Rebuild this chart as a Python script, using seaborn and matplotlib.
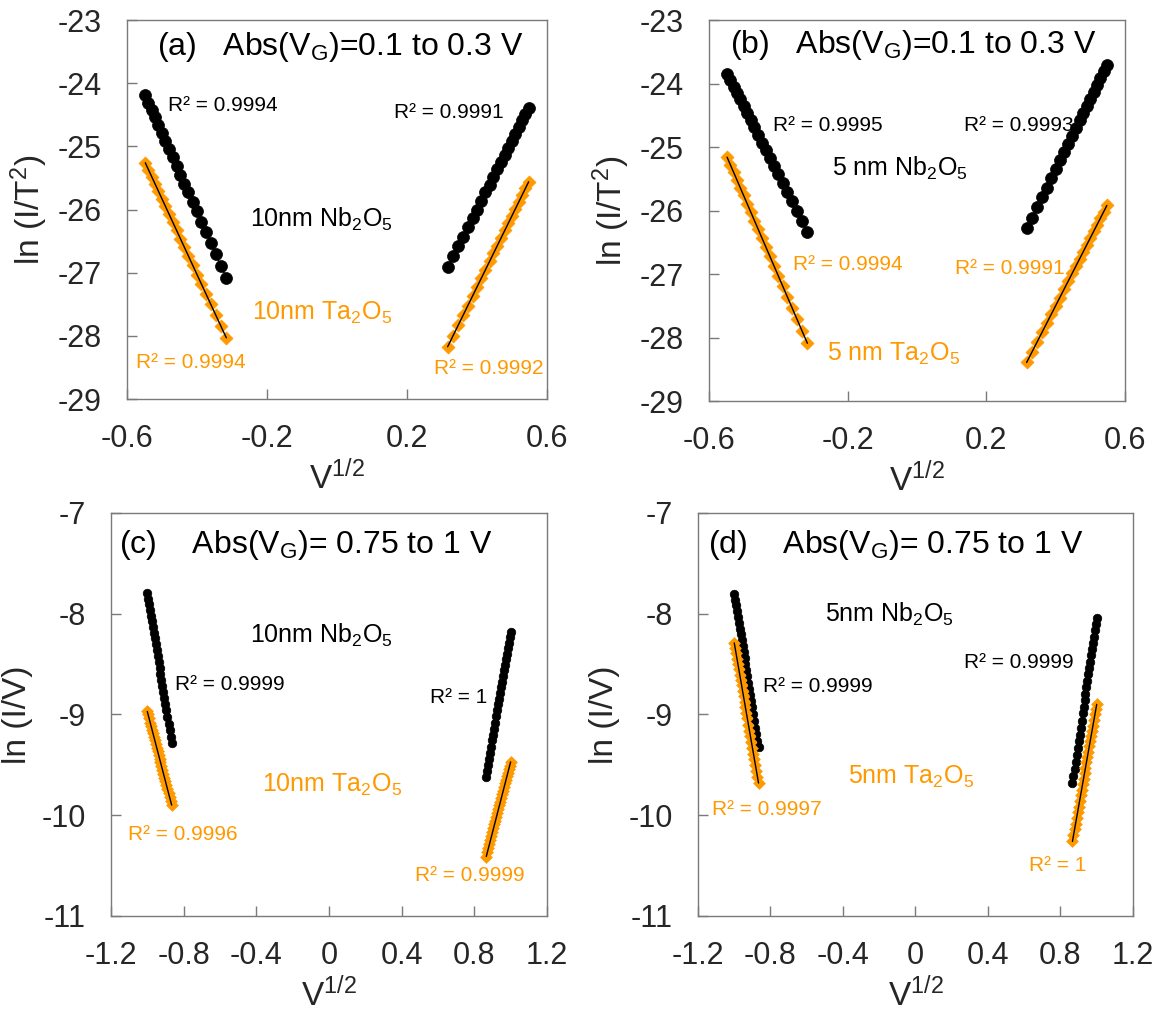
import matplotlib
matplotlib.use("Agg")
import matplotlib.pyplot as plt
import pandas as pd
import seaborn as sns

# ---------------- data ----------------
# sqrt(|V|) for |V| = 0.10 ... 0.30 (panels a, b)
sqrtv_low = [0.3162, 0.3317, 0.3464, 0.3606, 0.3742, 0.3873, 0.4000, 0.4123, 0.4243, 0.4359, 0.4472,
             0.4583, 0.4690, 0.4796, 0.4899, 0.5000, 0.5099, 0.5196, 0.5292, 0.5385, 0.5477]
# sqrt(|V|) for |V| = 0.75 ... 1.00 (panels c, d)
sqrtv_high = [0.8660, 0.8718, 0.8775, 0.8832, 0.8888, 0.8944, 0.9000, 0.9055, 0.9110, 0.9165, 0.9220,
              0.9274, 0.9327, 0.9381, 0.9434, 0.9487, 0.9539, 0.9592, 0.9644, 0.9695, 0.9747, 0.9798,
              0.9849, 0.9899, 0.9950, 1.0000]

# Panel (a) 10 nm: ln(I/T^2)
a_nb_neg = [-27.08, -26.89, -26.70, -26.53, -26.36, -26.19, -26.03, -25.88, -25.73, -25.59, -25.45,
            -25.31, -25.17, -25.04, -24.91, -24.79, -24.66, -24.54, -24.42, -24.31, -24.19]
a_ta_neg = [-28.03, -27.84, -27.67, -27.50, -27.34, -27.18, -27.03, -26.88, -26.74, -26.60, -26.46,
            -26.33, -26.20, -26.07, -25.95, -25.83, -25.71, -25.60, -25.48, -25.37, -25.26]
a_nb_pos = [-26.91, -26.74, -26.58, -26.43, -26.28, -26.14, -26.00, -25.86, -25.73, -25.61, -25.48,
            -25.36, -25.25, -25.13, -25.02, -24.91, -24.80, -24.70, -24.59, -24.49, -24.39]
a_ta_pos = [-28.17, -28.00, -27.83, -27.67, -27.52, -27.37, -27.23, -27.09, -26.95, -26.82, -26.69,
            -26.57, -26.45, -26.33, -26.21, -26.10, -25.99, -25.88, -25.77, -25.66, -25.56]

# Panel (b) 5 nm: ln(I/T^2)
b_nb_neg = [-26.33, -26.16, -26.01, -25.85, -25.71, -25.57, -25.43, -25.30, -25.17, -25.05, -24.93,
            -24.81, -24.69, -24.58, -24.47, -24.36, -24.25, -24.15, -24.05, -23.95, -23.85]
b_ta_neg = [-28.09, -27.89, -27.71, -27.53, -27.36, -27.19, -27.03, -26.87, -26.72, -26.58, -26.43,
            -26.29, -26.16, -26.02, -25.89, -25.76, -25.64, -25.52, -25.39, -25.28, -25.16]
b_nb_pos = [-26.28, -26.11, -25.95, -25.79, -25.64, -25.49, -25.35, -25.21, -25.08, -24.95, -24.82,
            -24.70, -24.58, -24.47, -24.35, -24.24, -24.13, -24.02, -23.92, -23.81, -23.71]
b_ta_pos = [-28.39, -28.23, -28.07, -27.92, -27.77, -27.63, -27.50, -27.37, -27.24, -27.11, -26.99,
            -26.87, -26.76, -26.65, -26.54, -26.43, -26.32, -26.22, -26.12, -26.02, -25.92]

# Panel (c) 10 nm: ln(I/V)
c_nb_neg = [-9.28, -9.22, -9.15, -9.09, -9.03, -8.96, -8.90, -8.84, -8.78, -8.72, -8.66, -8.60, -8.54,
            -8.48, -8.42, -8.36, -8.30, -8.24, -8.19, -8.13, -8.07, -8.02, -7.96, -7.90, -7.85, -7.79]
c_ta_neg = [-9.90, -9.86, -9.82, -9.78, -9.74, -9.70, -9.66, -9.63, -9.59, -9.55, -9.51, -9.47, -9.44,
            -9.40, -9.36, -9.33, -9.29, -9.25, -9.22, -9.18, -9.15, -9.11, -9.08, -9.04, -9.00, -8.97]
c_nb_pos = [-9.62, -9.56, -9.50, -9.44, -9.38, -9.32, -9.25, -9.20, -9.14, -9.08, -9.02, -8.96, -8.90,
            -8.85, -8.79, -8.73, -8.68, -8.62, -8.56, -8.51, -8.45, -8.40, -8.34, -8.29, -8.23, -8.18]
c_ta_pos = [-10.41, -10.37, -10.33, -10.29, -10.25, -10.21, -10.17, -10.13, -10.09, -10.06, -10.02,
            -9.98, -9.94, -9.90, -9.87, -9.83, -9.79, -9.76, -9.72, -9.68, -9.65, -9.61, -9.58, -9.54,
            -9.51, -9.47]

# Panel (d) 5 nm: ln(I/V)
d_nb_neg = [-9.32, -9.26, -9.19, -9.13, -9.06, -9.00, -8.93, -8.87, -8.81, -8.75, -8.69, -8.62, -8.56,
            -8.50, -8.44, -8.38, -8.32, -8.26, -8.20, -8.15, -8.09, -8.03, -7.97, -7.91, -7.86, -7.80]
d_ta_neg = [-9.68, -9.62, -9.56, -9.50, -9.44, -9.39, -9.33, -9.27, -9.21, -9.16, -9.10, -9.04, -8.99,
            -8.93, -8.88, -8.82, -8.77, -8.71, -8.66, -8.61, -8.55, -8.50, -8.45, -8.39, -8.34, -8.29]
d_nb_pos = [-9.68, -9.61, -9.54, -9.47, -9.40, -9.33, -9.26, -9.20, -9.13, -9.06, -8.99, -8.93, -8.86,
            -8.80, -8.73, -8.67, -8.60, -8.54, -8.48, -8.41, -8.35, -8.29, -8.23, -8.16, -8.10, -8.04]
d_ta_pos = [-10.26, -10.20, -10.14, -10.09, -10.03, -9.97, -9.92, -9.86, -9.80, -9.75, -9.69, -9.64,
            -9.58, -9.53, -9.47, -9.42, -9.37, -9.31, -9.26, -9.21, -9.16, -9.11, -9.05, -9.00, -8.95,
            -8.90]

xticks_ab = [-0.6, -0.2, 0.2, 0.6]
xticklabels_ab = ["-0.6", "-0.2", "0.2", "0.6"]
yticks_ab = [-29, -28, -27, -26, -25, -24, -23]
xticks_cd = [-1.2, -0.8, -0.4, 0, 0.4, 0.8, 1.2]
xticklabels_cd = ["-1.2", "-0.8", "-0.4", "0", "0.4", "0.8", "1.2"]
yticks_cd = [-11, -10, -9, -8, -7]

# ---------------- style ----------------
sns.set_style("white")
plt.rcParams["font.family"] = ["Liberation Sans", "DejaVu Sans"]
plt.rcParams["mathtext.fontset"] = "custom"
plt.rcParams["mathtext.rm"] = "Liberation Sans"
plt.rcParams["mathtext.it"] = "Liberation Sans"
plt.rcParams["mathtext.default"] = "regular"
plt.rcParams["axes.unicode_minus"] = False

ORANGE = "#FF9900"
BLACK = "#000000"
SPINE = "#7a7a7a"

fig = plt.figure(figsize=(11.68, 10.13), dpi=100)

panels = [
    dict(pos=[0.1087, 0.6061, 0.3596, 0.3741], xv=sqrtv_low,
         series=[(a_nb_neg, -1, BLACK), (a_ta_neg, -1, ORANGE), (a_nb_pos, 1, BLACK), (a_ta_pos, 1, ORANGE)],
         xlim=(-0.6, 0.6), xticks=xticks_ab, xtl=xticklabels_ab, ylim=(-29, -23), yticks=yticks_ab,
         ylabel="ln (I/T$^{2}$)", big=True,
         texts=[(-0.515, -23.42, "(a)   Abs(V$_{G}$)=0.1 to 0.3 V", BLACK, 23, "left"),
                (-0.483, -24.36, "R² = 0.9994", BLACK, 15, "left"),
                (0.477, -24.46, "R² = 0.9991", BLACK, 15, "right"),
                (-0.248, -26.15, "10nm Nb$_{2}$O$_{5}$", BLACK, 18, "left"),
                (-0.242, -27.64, "10nm Ta$_{2}$O$_{5}$", ORANGE, 18, "left"),
                (-0.574, -28.42, "R² = 0.9994", ORANGE, 15, "left"),
                (0.277, -28.52, "R² = 0.9992", ORANGE, 15, "left")]),
    dict(pos=[0.6070, 0.6041, 0.3562, 0.3761], xv=sqrtv_low,
         series=[(b_nb_neg, -1, BLACK), (b_ta_neg, -1, ORANGE), (b_nb_pos, 1, BLACK), (b_ta_pos, 1, ORANGE)],
         xlim=(-0.6, 0.6), xticks=xticks_ab, xtl=xticklabels_ab, ylim=(-29, -23), yticks=yticks_ab,
         ylabel="ln (I/T$^{2}$)", big=True,
         texts=[(-0.54, -23.40, "(b)   Abs(V$_{G}$)=0.1 to 0.3 V", BLACK, 23, "left"),
                (-0.415, -24.66, "R² = 0.9995", BLACK, 15, "left"),
                (0.136, -24.66, "R² = 0.9993", BLACK, 15, "left"),
                (-0.245, -25.33, "5 nm Nb$_{2}$O$_{5}$", BLACK, 18, "left"),
                (-0.358, -26.85, "R² = 0.9994", ORANGE, 15, "left"),
                (0.110, -26.92, "R² = 0.9991", ORANGE, 15, "left"),
                (-0.26, -28.25, "5 nm Ta$_{2}$O$_{5}$", ORANGE, 18, "left")]),
    dict(pos=[0.0950, 0.0958, 0.3733, 0.3978], xv=sqrtv_high,
         series=[(c_nb_neg, -1, BLACK), (c_ta_neg, -1, ORANGE), (c_nb_pos, 1, BLACK), (c_ta_pos, 1, ORANGE)],
         xlim=(-1.2, 1.2), xticks=xticks_cd, xtl=xticklabels_cd, ylim=(-11, -7), yticks=yticks_cd,
         ylabel="ln (I/V)", big=False,
         texts=[(-1.156, -7.32, "(c)    Abs(V$_{G}$)= 0.75 to 1 V", BLACK, 23, "left"),
                (-0.435, -8.22, "10nm Nb$_{2}$O$_{5}$", BLACK, 18, "left"),
                (-0.848, -8.70, "R² = 0.9999", BLACK, 15, "left"),
                (0.87, -8.83, "R² = 1", BLACK, 15, "right"),
                (-1.106, -10.19, "R² = 0.9996", ORANGE, 15, "left"),
                (-0.37, -9.70, "10nm Ta$_{2}$O$_{5}$", ORANGE, 18, "left"),
                (1.078, -10.60, "R² = 0.9999", ORANGE, 15, "right")]),
    dict(pos=[0.5976, 0.0958, 0.3724, 0.3978], xv=sqrtv_high,
         series=[(d_nb_neg, -1, BLACK), (d_ta_neg, -1, ORANGE), (d_nb_pos, 1, BLACK), (d_ta_pos, 1, ORANGE)],
         xlim=(-1.2, 1.2), xticks=xticks_cd, xtl=xticklabels_cd, ylim=(-11, -7), yticks=yticks_cd,
         ylabel="ln (I/V)", big=False,
         texts=[(-1.145, -7.32, "(d)    Abs(V$_{G}$)= 0.75 to 1 V", BLACK, 23, "left"),
                (-0.501, -8.01, "5nm Nb$_{2}$O$_{5}$", BLACK, 18, "left"),
                (-0.842, -8.72, "R² = 0.9999", BLACK, 15, "left"),
                (0.875, -8.48, "R² = 0.9999", BLACK, 15, "right"),
                (-1.123, -9.94, "R² = 0.9997", ORANGE, 15, "left"),
                (-0.374, -9.62, "5nm Ta$_{2}$O$_{5}$", ORANGE, 18, "left"),
                (0.627, -10.50, "R² = 1", ORANGE, 15, "left")]),
]

for p in panels:
    ax = fig.add_axes(p["pos"])
    for yv, sign, col in p["series"]:
        df = pd.DataFrame({"x": [sign * v for v in p["xv"]], "y": yv})
        if col == BLACK:
            s = 74 if p["big"] else 38
            sns.scatterplot(data=df, x="x", y="y", ax=ax, marker="o", s=s, color=BLACK,
                            edgecolor=BLACK, linewidth=0.5, zorder=3)
        else:
            s = 44 if p["big"] else 36
            sns.scatterplot(data=df, x="x", y="y", ax=ax, marker="D", s=s, color=ORANGE,
                            edgecolor=ORANGE, linewidth=0.5, zorder=3)
        sns.regplot(data=df, x="x", y="y", ax=ax, scatter=False, ci=None, truncate=True,
                    line_kws=dict(color="black", lw=1.0, zorder=4))
    ax.set_xlim(*p["xlim"])
    ax.set_ylim(*p["ylim"])
    ax.set_xticks(p["xticks"])
    ax.set_xticklabels(p["xtl"])
    ax.set_yticks(p["yticks"])
    ax.set_yticklabels([str(v) for v in p["yticks"]])
    ax.tick_params(axis="both", direction="in", length=7, width=1, color=SPINE,
                   labelsize=22, pad=18, bottom=True, left=True, top=False, right=False)
    for sp in ax.spines.values():
        sp.set_color(SPINE)
        sp.set_linewidth(1.0)
    ax.set_xlabel("V$^{1/2}$", fontsize=24, labelpad=4)
    ax.set_ylabel(p["ylabel"], fontsize=24, labelpad=6)
    ax.grid(False)
    for tx, ty, t, col, fs, ha in p["texts"]:
        ax.text(tx, ty, t, color=col, fontsize=fs, ha=ha, va="center")

fig.savefig("out.png", dpi=100)
